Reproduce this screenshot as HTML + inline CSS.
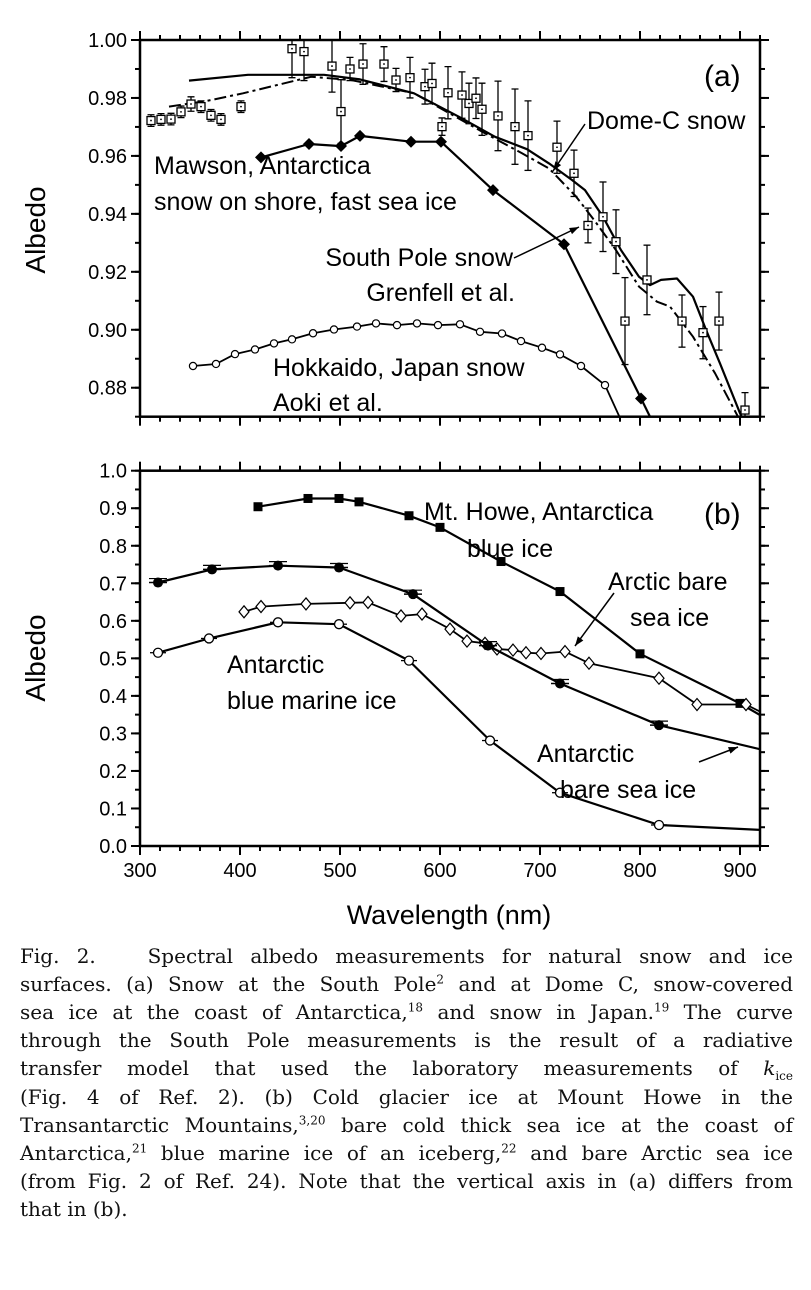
<!DOCTYPE html>
<html><head><meta charset="utf-8"><style>
body{margin:0;background:#fff;width:811px;height:1290px;overflow:hidden;position:relative}
svg{position:absolute;left:0;top:0}
.cap{position:absolute;left:20px;width:773px;font-family:"DejaVu Serif","Liberation Serif",serif;font-size:20px;color:#111;white-space:nowrap;text-align:justify;text-align-last:justify;line-height:28px}
.cap.last{text-align-last:left}
sup,sub{font-size:12px;line-height:0}
</style></head><body>
<svg id="chart" width="811" height="940" xmlns="http://www.w3.org/2000/svg" font-family="Liberation Sans, Arial, sans-serif"></svg>
<div>
<div class="cap" style="top:942px">Fig. 2. &nbsp; Spectral albedo measurements for natural snow and ice</div>
<div class="cap" style="top:970px">surfaces. (a) Snow at the South Pole<sup>2</sup> and at Dome C, snow-covered</div>
<div class="cap" style="top:998px">sea ice at the coast of Antarctica,<sup>18</sup> and snow in Japan.<sup>19</sup> The curve</div>
<div class="cap" style="top:1026px">through the South Pole measurements is the result of a radiative</div>
<div class="cap" style="top:1054px">transfer model that used the laboratory measurements of <i>k</i><sub>ice</sub></div>
<div class="cap" style="top:1083px">(Fig. 4 of Ref. 2). (b) Cold glacier ice at Mount Howe in the</div>
<div class="cap" style="top:1111px">Transantarctic Mountains,<sup>3,20</sup> bare cold thick sea ice at the coast of</div>
<div class="cap" style="top:1139px">Antarctica,<sup>21</sup> blue marine ice of an iceberg,<sup>22</sup> and bare Arctic sea ice</div>
<div class="cap" style="top:1167px">(from Fig. 2 of Ref. 24). Note that the vertical axis in (a) differs from</div>
<div class="cap last" style="top:1195px">that in (b).</div>
</div>
<script>
// ---- Panel (a) data ----
const domeX=[311,321,331,341,351,361,371,381,401,452,464,492,501,510,523,544,556,570,585,592,602,608,622,629,636,642,658,675,688,717,734,748,763,776,785,807,842,863,879,905];
const domeY=[0.9722,0.9726,0.9727,0.9752,0.9779,0.977,0.974,0.9726,0.977,0.997,0.996,0.991,0.9753,0.990,0.9917,0.9917,0.9862,0.987,0.9839,0.985,0.9701,0.9818,0.981,0.9781,0.9799,0.9761,0.9738,0.9701,0.967,0.963,0.954,0.936,0.939,0.9304,0.903,0.9172,0.903,0.899,0.903,0.8723];
const domeErr=[0.002,0.002,0.002,0.002,0.0025,0.002,0.002,0.002,0.002,0.01,0.01,0.009,0.011,0.004,0.007,0.006,0.004,0.007,0.006,0.007,0.003,0.009,0.008,0.007,0.007,0.009,0.012,0.013,0.012,0.009,0.008,0.006,0.012,0.011,0.015,0.012,0.009,0.009,0.01,0.006];
const domeModelX=[349,408,484,520,574,619,655,687,709,732,745,763,781,799,810,821,837,853,866,880,900,915];
const domeModelY=[0.986,0.988,0.988,0.9864,0.9816,0.9735,0.9666,0.9623,0.9574,0.9517,0.9482,0.939,0.9275,0.9183,0.9154,0.9172,0.9177,0.9114,0.900,0.8884,0.8712,0.86];
const spModelX=[329,367,403,471,511,574,642,682,709,736,754,776,799,817,830,853,875,898,910];
const spModelY=[0.977,0.979,0.9816,0.9873,0.9862,0.9816,0.9684,0.9609,0.9557,0.946,0.9379,0.9275,0.9149,0.9097,0.908,0.8976,0.885,0.87,0.862];
const mawsonX=[421,469,501,520,571,601,653,724,801];
const mawsonY=[0.9595,0.9641,0.9634,0.9669,0.9649,0.9649,0.9482,0.9295,0.8763];
const mawsonTailX=[801,820];const mawsonTailY=[0.8763,0.863];
const hokX=[353,376,395,415,434,452,473,494,517,536,557,577,598,620,640,662,681,702,720,741,765];
const hokY=[0.8875,0.8882,0.8916,0.8932,0.8953,0.8967,0.8988,0.9001,0.9011,0.9022,0.9016,0.9022,0.9016,0.9019,0.8993,0.8987,0.8961,0.8938,0.8915,0.8875,0.8809];
const hokTailX=[765,790];const hokTailY=[0.8809,0.862];
// ---- Panel (b) data ----
const howeX=[418,468,499,519,569,600,661,720,800,900];
const howeY=[0.904,0.926,0.926,0.917,0.880,0.849,0.758,0.678,0.512,0.380];
const howeTailX=[900,920];const howeTailY=[0.380,0.349];
const antSeaX=[318,372,438,499,573,648,720,819];
const antSeaY=[0.702,0.737,0.747,0.742,0.671,0.534,0.433,0.322];
const antSeaTailX=[819,920];const antSeaTailY=[0.322,0.258];
const arcX=[404,421,466,510,528,561,582,610,627,645,657,673,686,701,725,749,819,857,906];
const arcY=[0.624,0.638,0.645,0.648,0.649,0.613,0.618,0.578,0.546,0.540,0.525,0.522,0.515,0.513,0.518,0.487,0.447,0.377,0.377];
const arcTailX=[906,920];const arcTailY=[0.377,0.358];
const marX=[318,369,438,499,569,650,720,819];
const marY=[0.515,0.553,0.596,0.591,0.494,0.281,0.142,0.056];
const marTailX=[819,920];const marTailY=[0.056,0.043];
const xTicks=[300,400,500,600,700,800,900];
const aTicks=[1.00,0.98,0.96,0.94,0.92,0.90,0.88];
const aTickLabels=["1.00","0.98","0.96","0.94","0.92","0.90","0.88"];
const bTicks=[0,0.1,0.2,0.3,0.4,0.5,0.6,0.7,0.8,0.9,1.0];
const bTickLabels=["0.0","0.1","0.2","0.3","0.4","0.5","0.6","0.7","0.8","0.9","1.0"];

const NS="http://www.w3.org/2000/svg";
const svg=document.getElementById('chart');
const L=140,R=760;
const xS=l=>L+(l-300)*(R-L)/620;
const aTop=40,aBot=416.7;
const yA=v=>aTop+(1-v)/0.13*(aBot-aTop);
const bTop=470.7,bBot=846;
const yB=v=>bBot-v*(bBot-bTop);
function mk(tag,attrs,parent){const e=document.createElementNS(NS,tag);for(const k in attrs)e.setAttribute(k,attrs[k]);(parent||svg).appendChild(e);return e;}
const defs=mk('defs',{});
const ca=mk('clipPath',{id:'clipA'},defs);mk('rect',{x:L,y:aTop,width:R-L,height:aBot-aTop},ca);
const cb=mk('clipPath',{id:'clipB'},defs);mk('rect',{x:L,y:bTop,width:R-L,height:bBot-bTop},cb);
const gA=mk('g',{'clip-path':'url(#clipA)'});


const gB=mk('g',{'clip-path':'url(#clipB)'});


function path(xs,ys,ys2,g,name,extra){let d='';for(let i=0;i<xs.length;i++)d+=(i?'L':'M')+xS(xs[i]).toFixed(1)+','+ys2(ys[i]).toFixed(1);const p=mk('path',Object.assign({d:d,fill:'none',stroke:'#000','stroke-width':2.2,'stroke-linejoin':'round'},extra||{}),g);return p;}

function frame(top,bot,name,yTicksArr,yLabels,yf,minorStep,minorFrom,minorTo){
  const r=mk('rect',{x:L,y:top,width:R-L,height:bot-top,fill:'none',stroke:'#000','stroke-width':2.5});
  
  for(let l=300;l<=920;l+=20){const major=(l%100===0);const len=major?9:5;const x=xS(l);
    mk('line',{x1:x,y1:bot,x2:x,y2:bot+len,stroke:'#000','stroke-width':2});
    mk('line',{x1:x,y1:top,x2:x,y2:top-len,stroke:'#000','stroke-width':2});}
  for(let v=minorFrom;v<=minorTo+1e-9;v+=minorStep){const y=yf(v);if(y<top-1||y>bot+1)continue;
    mk('line',{x1:L,y1:y,x2:L-5,y2:y,stroke:'#000','stroke-width':2});mk('line',{x1:R,y1:y,x2:R+5,y2:y,stroke:'#000','stroke-width':2});}
  yTicksArr.forEach((v,i)=>{const y=yf(v);
    mk('line',{x1:L,y1:y,x2:L-9,y2:y,stroke:'#000','stroke-width':2});mk('line',{x1:R,y1:y,x2:R+9,y2:y,stroke:'#000','stroke-width':2});
    const t=mk('text',{x:L-13,y:y+7,'text-anchor':'end','font-size':20});t.textContent=yLabels[i];
    });
}
frame(aTop,aBot,'panel-a',aTicks,aTickLabels,yA,0.01,0.87,1.0);
frame(bTop,bBot,'panel-b',bTicks,bTickLabels,yB,0.05,0,1.0);
xTicks.forEach(l=>{const t=mk('text',{x:xS(l),y:bBot+31,'text-anchor':'middle','font-size':20});t.textContent=l;
  });
function txt(x,y,s,name,size,anchor){const t=mk('text',{x:x,y:y,'font-size':size||25,'text-anchor':anchor||'start'});t.textContent=s;return t;}
let t=txt(0,0,'Albedo','panel-a-y-axis-title',28,'middle');t.setAttribute('transform','translate(45,230) rotate(-90)');
t=txt(0,0,'Albedo','panel-b-y-axis-title',28,'middle');t.setAttribute('transform','translate(45,658) rotate(-90)');
txt(449,924,'Wavelength (nm)','x-axis-title',27,'middle');

// panel a series
path(domeModelX,domeModelY,yA,gA,'dome-c-model-line');
path(spModelX,spModelY,yA,gA,'south-pole-model-line',{'stroke-dasharray':'12,4,3,4','stroke-width':2});
domeX.forEach((l,i)=>{const x=xS(l),y=yA(domeY[i]),e=domeErr[i]*(aBot-aTop)/0.13;
  mk('line',{x1:x,y1:y-e,x2:x,y2:y+e,stroke:'#000','stroke-width':1.3},gA);
  mk('line',{x1:x-3.5,y1:y-e,x2:x+3.5,y2:y-e,stroke:'#000','stroke-width':1.3},gA);
  mk('line',{x1:x-3.5,y1:y+e,x2:x+3.5,y2:y+e,stroke:'#000','stroke-width':1.3},gA);
  const r=mk('rect',{x:x-4,y:y-4,width:8,height:8,fill:'#fff',stroke:'#000','stroke-width':1.3},gA);
  
  mk('circle',{cx:x,cy:y,r:0.9,fill:'#000'},gA);});
path(mawsonX,mawsonY,yA,gA,'mawson-line');path(mawsonTailX,mawsonTailY,yA,gA,'mawson-line-tail');
mawsonX.forEach((l,i)=>{const x=xS(l),y=yA(mawsonY[i]);const p=mk('path',{d:`M${x},${y-6}L${x+6},${y}L${x},${y+6}L${x-6},${y}Z`,fill:'#000'},gA);
  });
path(hokX,hokY,yA,gA,'hokkaido-line',{'stroke-width':1.8});path(hokTailX,hokTailY,yA,gA,'hokkaido-line-tail',{'stroke-width':1.8});
hokX.forEach((l,i)=>{const c=mk('circle',{cx:xS(l),cy:yA(hokY[i]),r:3.6,fill:'#fff',stroke:'#000','stroke-width':1.2},gA);
  });

// panel b series
path(howeX,howeY,yB,gB,'mt-howe-line');path(howeTailX,howeTailY,yB,gB,'mt-howe-line-tail');
howeX.forEach((l,i)=>{const x=xS(l),y=yB(howeY[i]);const r=mk('rect',{x:x-4.5,y:y-4.5,width:9,height:9,fill:'#000'},gB);
  });
path(arcX,arcY,yB,gB,'arctic-line',{'stroke-width':1.8});path(arcTailX,arcTailY,yB,gB,'arctic-line-tail',{'stroke-width':1.8});
arcX.forEach((l,i)=>{const x=xS(l),y=yB(arcY[i]);const p=mk('path',{d:`M${x},${y-6}L${x+5},${y}L${x},${y+6}L${x-5},${y}Z`,fill:'#fff',stroke:'#000','stroke-width':1.2},gB);
  });
path(antSeaX,antSeaY,yB,gB,'antarctic-sea-ice-line');path(antSeaTailX,antSeaTailY,yB,gB,'antarctic-sea-ice-line-tail');
antSeaX.forEach((l,i)=>{const x=xS(l),y=yB(antSeaY[i]);
  mk('line',{x1:x-9,y1:y,x2:x+9,y2:y,stroke:'#000','stroke-width':1.5},gB);
  mk('line',{x1:x-9,y1:y-4,x2:x+9,y2:y-4,stroke:'#000','stroke-width':1.2},gB);
  const c=mk('circle',{cx:x,cy:y,r:5,fill:'#000'},gB);});
path(marX,marY,yB,gB,'marine-ice-line');path(marTailX,marTailY,yB,gB,'marine-ice-line-tail');
marX.forEach((l,i)=>{const x=xS(l),y=yB(marY[i]);
  mk('line',{x1:x-8,y1:y,x2:x+8,y2:y,stroke:'#000','stroke-width':1.3},gB);
  const c=mk('circle',{cx:x,cy:y,r:4.5,fill:'#fff',stroke:'#000','stroke-width':1.3},gB);});

// labels & arrows
txt(704,86,'(a)','panel-a-label',30);txt(704,524,'(b)','panel-b-label',30);
txt(587,129,'Dome-C snow','dome-c-label',25);
txt(154,174,'Mawson, Antarctica','mawson-label',25);
txt(154,210,'snow on shore, fast sea ice','mawson-label-2',25);
txt(513,266,'South Pole snow','south-pole-label',25,'end');
txt(515,301,'Grenfell et al.','grenfell-label',25,'end');
txt(273,376,'Hokkaido, Japan snow','hokkaido-label',25);
txt(273,411,'Aoki et al.','aoki-label',25);
txt(424,520,'Mt. Howe, Antarctica','mt-howe-label',25);
txt(467,557,'blue ice','mt-howe-label-2',25);
txt(608,590,'Arctic bare','arctic-label',25);
txt(630,626,'sea ice','arctic-label-2',25);
txt(227,673,'Antarctic','marine-label',25);
txt(227,709,'blue marine ice','marine-label-2',25);
txt(537,762,'Antarctic','antarctic-sea-label',25);
txt(560,798,'bare sea ice','antarctic-sea-label-2',25);
function arrow(x1,y1,x2,y2,name){const g=mk('g',{});
  mk('line',{x1:x1,y1:y1,x2:x2,y2:y2,stroke:'#000','stroke-width':1.5},g);
  const a=Math.atan2(y2-y1,x2-x1),s=10;const p1=[x2-s*Math.cos(a-0.35),y2-s*Math.sin(a-0.35)],p2=[x2-s*Math.cos(a+0.35),y2-s*Math.sin(a+0.35)];
  mk('path',{d:`M${x2},${y2}L${p1[0]},${p1[1]}L${p2[0]},${p2[1]}Z`,fill:'#000'},g);}
arrow(585,124,553,171,'dome-c-arrow');arrow(514,258,579,227,'south-pole-arrow');
arrow(614,593,575,646,'arctic-arrow');arrow(699,762,738,747,'antarctic-sea-arrow');
</script>
</body></html>
